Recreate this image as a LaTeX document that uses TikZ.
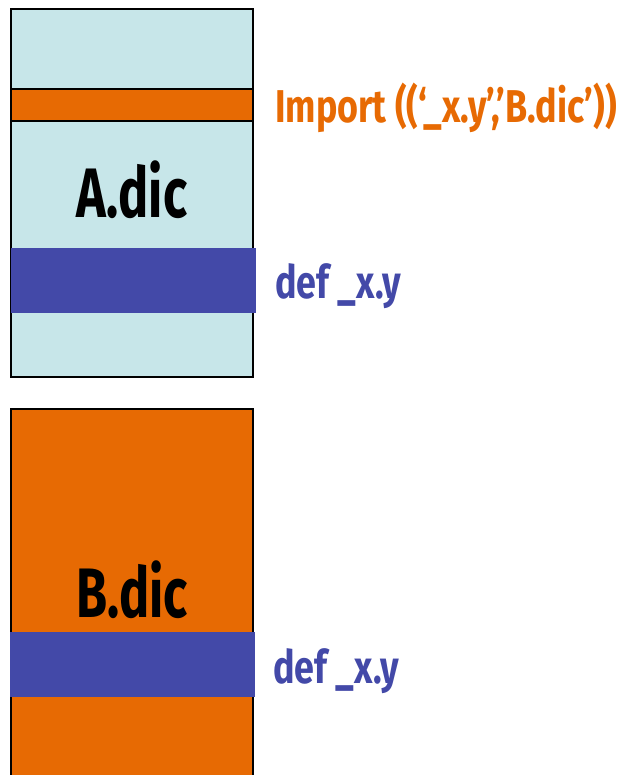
\documentclass[tikz,border=0pt]{standalone}
\usepackage{fontspec}
\setmainfont{Fira Sans}[FakeStretch=0.72]
\newfontfamily\labelfont{Fira Sans}[FakeStretch=0.78]
\definecolor{dicblue}{RGB}{199,230,233}
\definecolor{dicorange}{RGB}{231,106,3}
\definecolor{defblue}{RGB}{67,73,168}
\tikzset{
  dicname/.style={anchor=base, inner sep=0pt, font=\bfseries\fontsize{70}{70}\selectfont},
  deflabel/.style={anchor=base west, inner sep=0pt, text=defblue, font=\labelfont\bfseries\fontsize{46}{46}\selectfont},
  implabel/.style={anchor=base west, inner sep=0pt, text=dicorange, font=\labelfont\bfseries\fontsize{46}{46}\selectfont}
}

\begin{document}
\begin{tikzpicture}[x=1pt,y=-1pt]
  \useasboundingbox (0,0) rectangle (635,775);
  % A.dic with its import line and its definition
  \draw[line width=2pt, fill=dicblue] (11,9) rectangle (253,377);
  \draw[line width=2pt, fill=dicorange] (11,89) rectangle (253,121);
  \fill[defblue] (11,248) rectangle (256,313);
  \node[dicname] (adic) at (132,218) {A.dic};
  \node[implabel] (aimport) at (275,123) {Import ((‘\_x.y’,’B.dic’))};
  \node[deflabel] (adef) at (275,298) {def \_x.y};
  % B.dic runs off the bottom
  \draw[line width=2pt, fill=dicorange] (11,409) rectangle (253,790);
  \fill[defblue] (10,632) rectangle (255,697);
  \node[dicname] (bdic) at (132,617) {B.dic};
  \node[deflabel] (bdef) at (273,683) {def \_x.y};
\end{tikzpicture}
\end{document}
